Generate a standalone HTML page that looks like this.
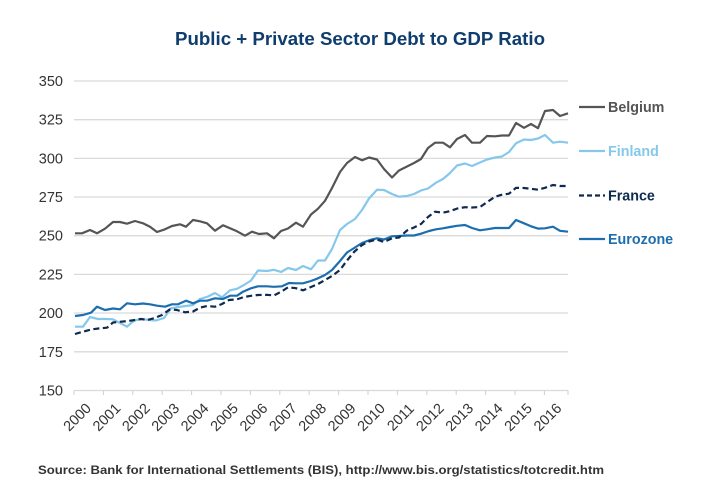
<!DOCTYPE html>
<html>
<head>
<meta charset="utf-8">
<style>
html,body{margin:0;padding:0;background:#fff;}
svg{display:block;}
</style>
</head>
<body>
<svg width="720" height="500" viewBox="0 0 720 500" xmlns="http://www.w3.org/2000/svg" font-family="Liberation Sans, Arial, sans-serif">
<rect width="720" height="500" fill="#fff"/>
<text x="360" y="45" text-anchor="middle" font-size="18" font-weight="bold" fill="#0f3d6e" textLength="370" lengthAdjust="spacingAndGlyphs">Public + Private Sector Debt to GDP Ratio</text>

<g stroke="#dadada" stroke-width="1.3">
<line x1="74" y1="81" x2="568" y2="81"/>
<line x1="74" y1="119.7" x2="568" y2="119.7"/>
<line x1="74" y1="158.4" x2="568" y2="158.4"/>
<line x1="74" y1="197" x2="568" y2="197"/>
<line x1="74" y1="235.7" x2="568" y2="235.7"/>
<line x1="74" y1="274.4" x2="568" y2="274.4"/>
<line x1="74" y1="313" x2="568" y2="313"/>
<line x1="74" y1="351.8" x2="568" y2="351.8"/>
<line x1="74" y1="390.5" x2="568" y2="390.5"/>
</g>
<g stroke="#cfcfcf" stroke-width="1">
<line x1="74" y1="390.5" x2="74" y2="395"/>
<line x1="103.4" y1="390.5" x2="103.4" y2="395"/>
<line x1="132.8" y1="390.5" x2="132.8" y2="395"/>
<line x1="162.2" y1="390.5" x2="162.2" y2="395"/>
<line x1="191.6" y1="390.5" x2="191.6" y2="395"/>
<line x1="221" y1="390.5" x2="221" y2="395"/>
<line x1="250.4" y1="390.5" x2="250.4" y2="395"/>
<line x1="279.8" y1="390.5" x2="279.8" y2="395"/>
<line x1="309.2" y1="390.5" x2="309.2" y2="395"/>
<line x1="338.6" y1="390.5" x2="338.6" y2="395"/>
<line x1="368" y1="390.5" x2="368" y2="395"/>
<line x1="397.4" y1="390.5" x2="397.4" y2="395"/>
<line x1="426.8" y1="390.5" x2="426.8" y2="395"/>
<line x1="456.2" y1="390.5" x2="456.2" y2="395"/>
<line x1="485.6" y1="390.5" x2="485.6" y2="395"/>
<line x1="515" y1="390.5" x2="515" y2="395"/>
<line x1="544.4" y1="390.5" x2="544.4" y2="395"/>
<line x1="568" y1="390.5" x2="568" y2="395"/>
</g>

<g font-size="14.5" fill="#333" text-anchor="end">
<text x="63" y="86">350</text>
<text x="63" y="124.7">325</text>
<text x="63" y="163.4">300</text>
<text x="63" y="202">275</text>
<text x="63" y="240.7">250</text>
<text x="63" y="279.4">225</text>
<text x="63" y="318">200</text>
<text x="63" y="356.8">175</text>
<text x="63" y="395.5">150</text>
</g>

<g font-size="14.5" fill="#333" text-anchor="middle">
<text transform="translate(77,417) rotate(-45)" dy="0.35em">2000</text>
<text transform="translate(106.4,417) rotate(-45)" dy="0.35em">2001</text>
<text transform="translate(135.8,417) rotate(-45)" dy="0.35em">2002</text>
<text transform="translate(165.2,417) rotate(-45)" dy="0.35em">2003</text>
<text transform="translate(194.6,417) rotate(-45)" dy="0.35em">2004</text>
<text transform="translate(224,417) rotate(-45)" dy="0.35em">2005</text>
<text transform="translate(253.4,417) rotate(-45)" dy="0.35em">2006</text>
<text transform="translate(282.8,417) rotate(-45)" dy="0.35em">2007</text>
<text transform="translate(312.2,417) rotate(-45)" dy="0.35em">2008</text>
<text transform="translate(341.6,417) rotate(-45)" dy="0.35em">2009</text>
<text transform="translate(371,417) rotate(-45)" dy="0.35em">2010</text>
<text transform="translate(400.4,417) rotate(-45)" dy="0.35em">2011</text>
<text transform="translate(429.8,417) rotate(-45)" dy="0.35em">2012</text>
<text transform="translate(459.2,417) rotate(-45)" dy="0.35em">2013</text>
<text transform="translate(488.6,417) rotate(-45)" dy="0.35em">2014</text>
<text transform="translate(518,417) rotate(-45)" dy="0.35em">2015</text>
<text transform="translate(547.4,417) rotate(-45)" dy="0.35em">2016</text>
</g>

<g fill="none" stroke-width="2.2" stroke-linejoin="round">
<polyline stroke="#555555" points="75,233.3 82,233.3 90,230 97,233.3 105,228.7 113,222 120,222 127,223.7 135,221 143,223.3 150,226.7 157,232 165,229.3 172,226 180,224.3 186,226.7 193,220 200,221.3 207,223.3 215,230.7 223,225.3 230,228.3 237,231.3 245,235.7 252,231.7 259,234 267,233.3 274,238.3 281,231 288,228.5 296,222.7 303,226.7 311,214.5 318,208.7 325,200.8 332,188 340,172 347,163 355,157 362,160.3 369,157.5 377,159.5 384,169 392,177.5 399,170.5 407,166.5 414,163 421,159 428,148 435,142.7 443,142.7 450,147.3 457,139 465,135 472,142.7 480,142.7 487,136 495,136.3 502,135.5 509,135.5 516,123 524,127.8 531,124 538,128.2 545,111 553,110 560,116 568,113.3"/>
<polyline stroke="#86c8ec" points="75,326.7 83,326.7 90,317 98,319 106,319 113,319.3 120,323 127,326.7 134,320.5 142,319 149,320 156,320.5 164,318 171,308.3 178,307 186,306 193,305 200,299 208,296.5 215,293 222,297.3 230,290.3 237,288.8 244,285 251,280.5 258,270.5 267,271 274,269.8 281,272 288,268 296,270 303,266 311,269.3 318,260.5 325,260.5 332,249 340,230 347,224 355,219 362,210 369,198.5 377,189.7 384,190 392,194 399,196.7 407,196 414,194 421,190.5 428,188.5 436,182.7 443,179 450,173 457,165.5 465,163.5 472,166 480,162.5 487,159.5 495,157.5 502,156.5 509,152 516,143.3 524,139.5 531,140 538,138.5 545,135 553,142.7 560,141.7 568,142.7"/>
<polyline stroke="#1c6eaf" points="75,316 83,315 91,312.7 97,306.7 105,310 113,308.5 120,309.3 127,303.3 135,304.3 143,303.5 150,304.3 157,305.7 165,306.7 172,304.3 178,304.3 186,300.7 193,303.3 200,300.7 207,300.7 215,298.3 223,299 230,295.7 237,295.7 243,291.7 251,288.3 258,286.3 267,286.3 274,286.8 282,286.3 289,283 296,283.3 303,283.3 311,281 318,278.3 325,275 332,270 340,261 347,252.5 355,247.5 362,243 370,240 377,238.3 384,239.5 392,236.3 399,236 407,235.5 414,235.5 421,233.7 429,231 436,229.3 443,228.3 450,227 457,225.8 465,225 472,228 480,230.3 487,229.3 495,228 502,228 509,228 516,220 524,223.3 531,226.3 538,228.6 545,228.3 553,226.7 560,230.8 568,231.7"/>
<polyline stroke="#0e2a4e" stroke-dasharray="6,3.5" points="75,334 83,331.7 91,329.5 100,328.3 107,327.7 113,322.5 121,321.7 128,321 135,320 141,319 147,320 154,318.3 162,315 170,309.3 177,310 185,312.3 193,311.5 200,307.7 207,306 215,306.7 222,304 229,300 237,299.3 244,297 251,295.8 258,295 267,294.8 274,295.5 282,291.2 288,287.3 296,288.2 303,290.3 311,287 318,284 325,280 332,276 340,270 347,260.5 354,252 362,245 369,241.5 377,239.5 384,242 392,238.3 399,237.5 407,230.5 414,227.5 421,224 428,217 435,211.7 443,212.7 450,211.2 457,208.6 465,207.2 472,207.5 480,207 487,202.2 495,196.7 502,194.7 509,193.7 516,187.8 524,188 531,188.8 538,189.7 545,187.8 553,185 560,186 568,186"/>
</g>

<g stroke-width="2.2">
<line x1="579" y1="107" x2="605" y2="107" stroke="#555555"/>
<line x1="579" y1="151" x2="605" y2="151" stroke="#86c8ec"/>
<line x1="579" y1="195.5" x2="605" y2="195.5" stroke="#0e2a4e" stroke-dasharray="5,3"/>
<line x1="579" y1="239" x2="605" y2="239" stroke="#1c6eaf"/>
</g>
<g font-size="14.3" font-weight="bold">
<text x="608" y="112" fill="#555555">Belgium</text>
<text x="608" y="156" fill="#86c8ec">Finland</text>
<text x="608" y="200.5" fill="#0e2a4e">France</text>
<text x="608" y="244" fill="#1c6eaf">Eurozone</text>
</g>

<text x="38" y="474" font-size="12" font-weight="bold" fill="#333" textLength="566" lengthAdjust="spacingAndGlyphs">Source: Bank for International Settlements (BIS), http://www.bis.org/statistics/totcredit.htm</text>
</svg>
</body>
</html>
